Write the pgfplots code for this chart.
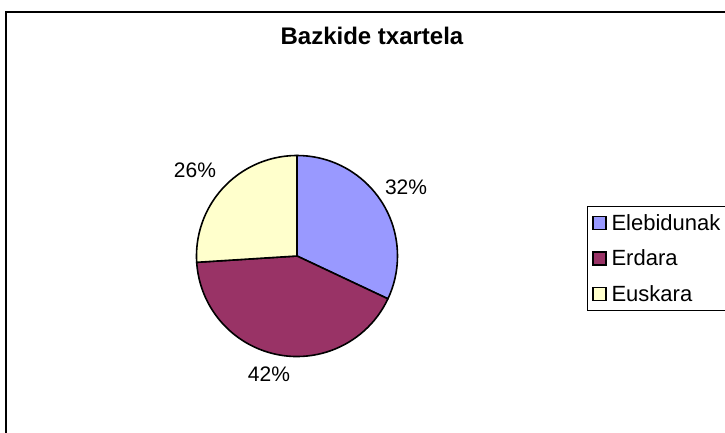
\documentclass[border=0pt]{standalone}
\usepackage{pgfplots}
\pgfplotsset{compat=1.18}
\usepackage{fontspec}
\setmainfont{Liberation Sans}
\definecolor{cA}{HTML}{9999FF}
\definecolor{cB}{HTML}{993366}
\definecolor{cC}{HTML}{FFFFCC}
\begin{document}
\begin{tikzpicture}[x=1pt,y=1pt]
\useasboundingbox (0,0) rectangle (725,432);
\clip (0,0) rectangle (725,432);
\fill[white] (0,0) rectangle (725,432);
\draw[black,line width=1.6pt] (6,420) -- (760,420) -- (760,-20) -- (6,-20) -- cycle;
% data (percent)
\def\vA{32}\def\vB{42}\def\vC{26}
\pgfmathsetmacro\aA{90}
\pgfmathsetmacro\aB{\aA-3.6*\vA}
\pgfmathsetmacro\aC{\aB-3.6*\vB}
\pgfmathsetmacro\aD{\aC-3.6*\vC}
\begin{axis}[
  at={(196.5pt,75.5pt)}, anchor=south west,
  width=201pt, height=201pt, scale only axis,
  xmin=-1, xmax=1, ymin=-1, ymax=1,
  hide axis, clip=false,
  title={Bazkide txartela},
  title style={at={(axis description cs:0.873,1.567)}, anchor=center,
    font=\fontsize{24}{28}\selectfont\bfseries, inner sep=0pt},
  legend style={at={(axis description cs:1.941,0.749)}, anchor=north west,
    draw=black, line width=0.8pt, inner xsep=5pt, inner ysep=8pt,
    row sep=18pt, column sep=5pt,
    font=\fontsize{22}{26}\selectfont,
    nodes={inner sep=0pt}},
  legend cell align=left,
  legend image code/.code={\draw[#1,draw=black,line width=1.5pt] (0pt,-6.5pt) rectangle (13pt,6.5pt);},
]
\addlegendimage{fill=cA}\addlegendentry{Elebidunak}
\addlegendimage{fill=cB}\addlegendentry{Erdara}
\addlegendimage{fill=cC}\addlegendentry{Euskara}
\filldraw[fill=cA,draw=black,line width=1.6pt,line join=round] (axis cs:0,0) -- (axis cs:{cos(\aA)},{sin(\aA)}) arc[start angle=\aA,end angle=\aB,radius=100.5pt] -- cycle;
\filldraw[fill=cB,draw=black,line width=1.6pt,line join=round] (axis cs:0,0) -- (axis cs:{cos(\aB)},{sin(\aB)}) arc[start angle=\aB,end angle=\aC,radius=100.5pt] -- cycle;
\filldraw[fill=cC,draw=black,line width=1.6pt,line join=round] (axis cs:0,0) -- (axis cs:{cos(\aC)},{sin(\aC)}) arc[start angle=\aC,end angle=\aD,radius=100.5pt] -- cycle;
\node[font=\fontsize{21}{25}\selectfont,inner sep=0pt] at (axis cs:1.085,0.682) {32\%};
\node[font=\fontsize{21}{25}\selectfont,inner sep=0pt] at (axis cs:-0.279,-1.174) {42\%};
\node[font=\fontsize{21}{25}\selectfont,inner sep=0pt] at (axis cs:-1.015,0.851) {26\%};
\end{axis}
\end{tikzpicture}
\end{document}
